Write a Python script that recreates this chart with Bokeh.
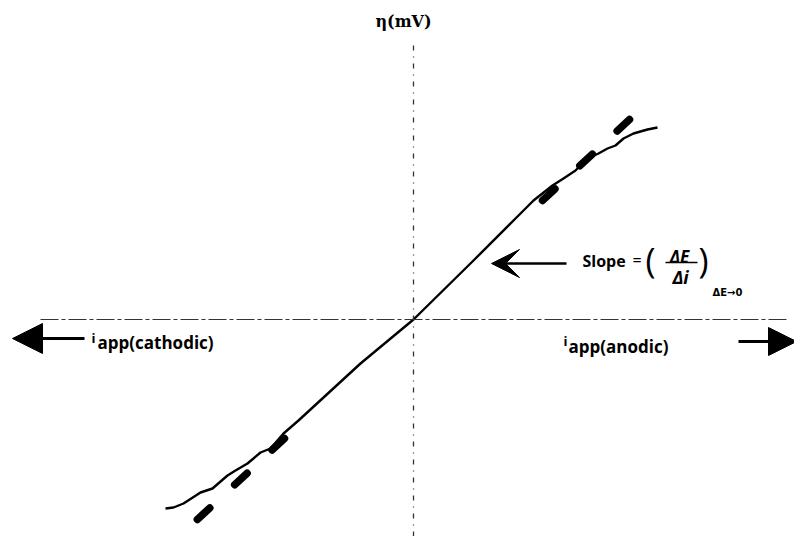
from bokeh.plotting import figure
from bokeh.models import Range1d, LinearAxis, FixedTicker, Label, Arrow, NormalHead, VeeHead
from bokeh.embed import file_html
from bokeh.resources import INLINE

# ---- data (units: 1 = 50 px of the original drawing) ----
current_i = [-4.96, -4.80, -4.60, -4.26, -4.02, -3.72, -3.56, -3.32, -3.06, -2.86,
             -2.60, -2.30, -1.06, 0.0, 1.20, 2.04, 2.40, 2.78, 3.00, 3.24, 3.48,
             3.70, 3.88, 4.04, 4.20, 4.40, 4.68, 4.88]
overpotential_eta = [-3.78, -3.76, -3.68, -3.46, -3.38, -3.12, -3.02, -2.88, -2.66, -2.58,
                     -2.28, -2.02, -0.88, 0.0, 1.18, 2.02, 2.38, 2.68, 2.82, 2.98, 3.22,
                     3.32, 3.42, 3.48, 3.62, 3.72, 3.80, 3.84]
tangent_lower_i = [-2.58, -4.84]
tangent_lower_eta = [-2.38, -4.48]
tangent_upper_i = [2.58, 4.32]
tangent_upper_eta = [2.38, 4.00]

y_axis_label = "η(mV)"
x_label_sub_cathodic = "app(cathodic)"
x_label_sub_anodic = "app(anodic)"

# ---- layout helpers: pixel of the drawing -> data ----
OX, OY, S = 413.0, 319.0, 50.0
def X(px):
    return (px - OX) / S
def Y(py):
    return (OY - py) / S

W, H = 794, 536
p = figure(width=W, height=H, output_backend="svg", toolbar_location=None,
           x_axis_type=None, y_axis_type=None,
           x_range=Range1d(X(0), X(W)), y_range=Range1d(Y(H), Y(0)),
           min_border=0, min_border_left=0, min_border_right=0,
           min_border_top=0, min_border_bottom=0)
p.outline_line_color = None
p.background_fill_color = "white"
p.border_fill_color = "white"

def bare_axis(axis):
    axis.ticker = FixedTicker(ticks=[])
    axis.major_tick_line_color = None
    axis.minor_tick_line_color = None
    axis.major_tick_in = 0
    axis.major_tick_out = 0
    axis.minor_tick_in = 0
    axis.minor_tick_out = 0
    axis.major_label_text_color = None
    axis.major_label_text_font_size = "0px"
    axis.major_label_standoff = 0
    return axis

xaxis = bare_axis(LinearAxis(fixed_location=0, bounds=(X(40), X(786))))
xaxis.axis_line_color = "#333333"
xaxis.axis_line_width = 1
xaxis.axis_line_dash = "18 3 4 3"
p.add_layout(xaxis, "below")

yaxis = bare_axis(LinearAxis(fixed_location=0, bounds=(Y(560), Y(44))))
yaxis.axis_line_color = "#333333"
yaxis.axis_line_width = 1.3
yaxis.axis_line_dash = "5 6 1 6"
p.add_layout(yaxis, "left")

# tangent (thick dashes)
p.multi_line(xs=[tangent_lower_i, tangent_upper_i], ys=[tangent_lower_eta, tangent_upper_eta],
             line_color="black", line_width=7.5, line_dash="17 34", line_cap="round")

# measured curve
p.line(current_i, overpotential_eta, line_color="black", line_width=2.4, line_join="round")

# big arrows
p.add_layout(Arrow(end=NormalHead(size=30, fill_color="black", line_color="black"),
                   x_start=X(84), y_start=Y(338), x_end=X(12), y_end=Y(338),
                   line_color="black", line_width=3))
p.add_layout(Arrow(end=NormalHead(size=28, fill_color="black", line_color="black"),
                   x_start=X(738), y_start=Y(341), x_end=X(796), y_end=Y(341),
                   line_color="black", line_width=3))
# slope arrow
p.add_layout(Arrow(end=VeeHead(size=28, fill_color="black", line_color="black"),
                   x_start=X(566), y_start=Y(263), x_end=X(491), y_end=Y(263),
                   line_color="black", line_width=2.5))

SANS = "Open Sans"
def lab(text, px, py, size, style="bold", font=SANS, align="left", baseline="alphabetic"):
    p.add_layout(Label(x=X(px), y=Y(py), text=text, text_font=font,
                       text_font_size=f"{size}px", text_font_style=style,
                       text_color="black", text_align=align, text_baseline=baseline))

lab(y_axis_label, 403, 21, 16, font="DejaVu Serif", align="center", baseline="middle")

lab("i", 91, 337, 13)
lab(x_label_sub_cathodic, 97, 342, 17)
lab("i", 563, 340, 13)
lab(x_label_sub_anodic, 568, 346, 17)

lab("Slope", 582, 260, 16)
lab("=", 632, 259, 16, style="normal")
lab("(", 645, 259, 34, style="normal", baseline="middle")
lab("ΔE", 679, 256, 17, style="bold italic", align="center")
p.add_layout(Arrow(start=None, end=None, x_start=X(665), y_start=Y(262), x_end=X(697), y_end=Y(262),
                   line_color="black", line_width=1.5))
lab("Δi", 680, 276, 18, style="bold italic", align="center")
lab(")", 698, 259, 34, style="normal", baseline="middle")
lab("ΔE→0", 712, 292, 10, font="DejaVu Sans")

open("out.html", "w").write(file_html(p, INLINE))
